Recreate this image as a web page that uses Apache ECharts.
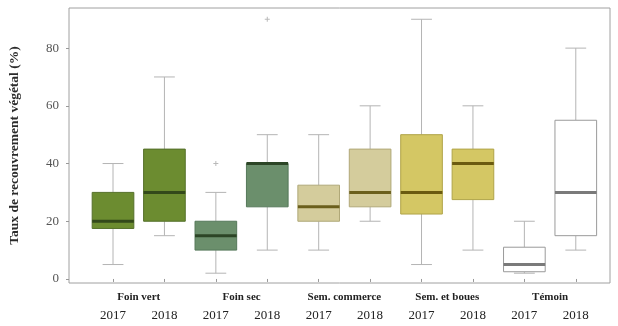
<!DOCTYPE html>
<html>
<head>
<meta charset="utf-8">
<script src="https://cdn.jsdelivr.net/npm/echarts@6/dist/echarts.min.js"></script>
<style>
html, body { margin: 0; padding: 0; background: #ffffff; }
#chart { width: 618px; height: 326px; }
</style>
</head>
<body>
<div id="chart"></div>
<script>
// Treatments and sampling years
const groups = ['Foin vert', 'Foin sec', 'Sem. commerce', 'Sem. et boues', 'Témoin'];
const years = ['2017', '2018', '2017', '2018', '2017', '2018', '2017', '2018', '2017', '2018'];

// Box statistics (% vegetation cover), one entry per box
const lowWhisker  = [5,    15, 2,  10, 10,   20, 5,    10,   2,   10];
const q1          = [17.5, 20, 10, 25, 20,   25, 22.5, 27.5, 2.5, 15];
const median      = [20,   30, 15, 40, 25,   30, 30,   40,   5,   30];
const q3          = [30,   45, 20, 40, 32.5, 45, 50,   45,   11,  55];
const highWhisker = [40,   70, 30, 50, 50,   60, 90,   60,   20,  80];

// Outliers: [box index, value]
const outliers = [[2, 40], [3, 90]];

const yTicks = [0, 20, 40, 60, 80];

// Fill / border / median colours per treatment
const fillColors   = ['#6c8c30', '#6b8f6c', '#d4cc9c', '#d4c764', '#ffffff'];
const borderColors = ['#55702a', '#55785a', '#b0a878', '#b0a448', '#9a9a9a'];
const medianColors = ['#33491a', '#2c4526', '#6b5f1c', '#6a5a10', '#7a7a7a'];

const boxData = years.map((y, i) => [i, lowWhisker[i], q1[i], median[i], q3[i], highWhisker[i]]);

const serif = 'Liberation Serif';
const yMin = -1.4, yMax = 93.9;

const chart = echarts.init(document.getElementById('chart'), null, { renderer: 'canvas' });

chart.setOption({
  animation: false,
  backgroundColor: '#ffffff',
  grid: [
    { left: 68, right: 8, top: 8, bottom: 43, show: true, borderColor: '#a0a0a0', borderWidth: 1, backgroundColor: 'transparent' },
    { left: 87.3, right: 16.5, top: 8, bottom: 43 }
  ],
  xAxis: [
    { type: 'value', gridIndex: 0, show: false, min: 0, max: 1 },
    {
      type: 'category', gridIndex: 1, data: years, position: 'bottom',
      axisLine: { show: false },
      axisTick: { show: true, alignWithLabel: true, length: 3, lineStyle: { color: '#999999' } },
      axisLabel: { margin: 26, fontFamily: serif, fontSize: 13, color: '#222222' }
    },
    {
      type: 'category', gridIndex: 1, data: groups, position: 'bottom', offset: 0,
      axisLine: { show: false }, axisTick: { show: false },
      axisLabel: { margin: 9, fontFamily: serif, fontSize: 11, fontWeight: 'bold', color: '#222222' }
    }
  ],
  yAxis: [
    {
      type: 'value', gridIndex: 0, min: yMin, max: yMax,
      name: 'Taux de recouvrement végétal (%)', nameLocation: 'middle', nameGap: 47, nameRotate: 90,
      nameTextStyle: { fontFamily: serif, fontSize: 13.5, fontWeight: 'bold', color: '#2a2a2a' },
      axisLine: { show: false },
      splitLine: { show: false },
      axisTick: { show: true, length: 3, customValues: yTicks, lineStyle: { color: '#999999' } },
      axisLabel: { customValues: yTicks, margin: 10, fontFamily: serif, fontSize: 13, color: '#555555' }
    },
    { type: 'value', gridIndex: 1, min: yMin, max: yMax, show: false }
  ],
  series: [
    {
      type: 'custom',
      xAxisIndex: 1, yAxisIndex: 1,
      data: boxData,
      encode: { x: 0, y: [1, 2, 3, 4, 5] },
      renderItem: function (params, api) {
        const i = api.value(0);
        const g = Math.floor(i / 2);
        const band = api.size([1, 0])[0];
        const x = api.coord([i, 0])[0];
        const w = band * 0.81;
        const cw = w * 0.5;
        const yLo = api.coord([i, api.value(1)])[1];
        const yQ1 = api.coord([i, api.value(2)])[1];
        const yMed = api.coord([i, api.value(3)])[1];
        const yQ3 = api.coord([i, api.value(4)])[1];
        const yHi = api.coord([i, api.value(5)])[1];
        const wStyle = { stroke: '#b4b4b4', lineWidth: 1 };
        return {
          type: 'group',
          children: [
            { type: 'line', shape: { x1: x, y1: yHi, x2: x, y2: yQ3 }, style: wStyle },
            { type: 'line', shape: { x1: x, y1: yQ1, x2: x, y2: yLo }, style: wStyle },
            { type: 'line', shape: { x1: x - cw / 2, y1: yHi, x2: x + cw / 2, y2: yHi }, style: wStyle },
            { type: 'line', shape: { x1: x - cw / 2, y1: yLo, x2: x + cw / 2, y2: yLo }, style: wStyle },
            {
              type: 'rect',
              shape: { x: x - w / 2, y: yQ3, width: w, height: yQ1 - yQ3 },
              style: { fill: fillColors[g], stroke: borderColors[g], lineWidth: 1 }
            },
            {
              type: 'line',
              shape: { x1: x - w / 2, y1: yMed, x2: x + w / 2, y2: yMed },
              style: { stroke: medianColors[g], lineWidth: 3 }
            }
          ]
        };
      }
    },
    {
      type: 'scatter',
      xAxisIndex: 1, yAxisIndex: 1,
      data: outliers,
      symbol: 'path://M2,0H3V2H5V3H3V5H2V3H0V2H2Z',
      symbolSize: 5,
      itemStyle: { color: '#a8a8a8' }
    }
  ]
});
</script>
</body>
</html>
